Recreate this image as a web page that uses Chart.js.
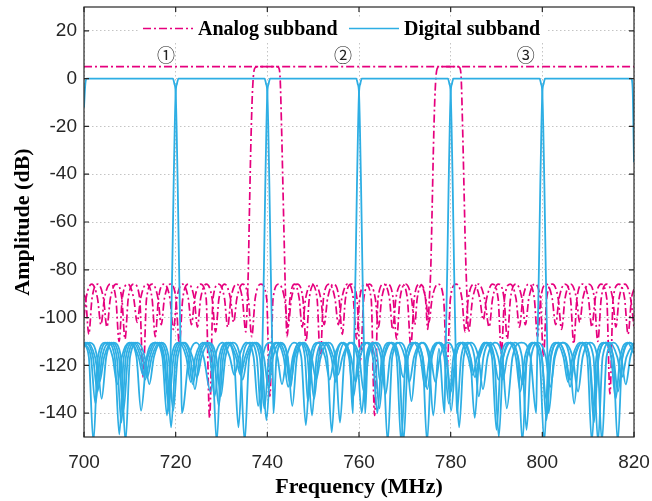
<!DOCTYPE html>
<html>
<head>
<meta charset="utf-8">
<script src="https://cdn.jsdelivr.net/npm/chart.js@4.4.1/dist/chart.umd.min.js"></script>
<style>
  html, body { margin: 0; padding: 0; background: #fff; }
</style>
</head>
<body>
<canvas id="chart" width="652" height="501"></canvas>
<script>
// frequency ticks (MHz) and amplitude ticks (dB)
var xTicks = [700, 720, 740, 760, 780, 800, 820];
var yTicks = [20, 0, -20, -40, -60, -80, -100, -120, -140];
var seriesNames = ["Analog subband", "Digital subband"];

// subband markers
var markerText = ["\u2460", "\u2461", "\u2462"];
var markerFreq = [717.9, 756.5, 796.4];
var markerLevel = 10;

// analog subband responses [MHz, dB]
var analog1 = [[700,5],[742.1,5],[742.5,4.5],[742.8,0],[743.1,-20],[743.4,-45],[743.7,-70],[743.95,-90],[744.3,-108],
  [744.95,-92],[745.95,-86],[746.95,-92],[747.6,-104],[748.35,-92],[749.6,-86],[750.85,-92],[751.55,-117],
  [752.25,-92],[753.5,-86],[754.75,-92],[755.5,-103],[756.25,-92],[757.5,-86],[758.75,-92],[759.45,-109],
  [760.15,-92],[761.4,-86],[762.65,-92],[763.4,-141],[764.15,-92],[765.4,-86],[766.65,-92],[767.35,-105],
  [768.05,-92],[769.3,-86],[770.55,-92],[771.3,-112],[772.05,-92],[773.3,-86],[774.55,-92],[775.25,-102],
  [775.95,-92],[777.2,-86],[778.45,-92],[779.2,-121],[779.95,-92],[781.2,-86],[782.45,-92],[783.15,-106],
  [783.85,-92],[785.1,-86],[786.35,-92],[787.1,-101],[787.85,-92],[789.1,-86],[790.35,-92],[791.05,-115],
  [791.75,-92],[793,-86],[794.25,-92],[795,-104],[795.75,-92],[797,-86],[798.25,-92],[798.95,-108],
  [799.65,-92],[800.9,-86],[802.15,-92],[802.9,-103],[803.65,-92],[804.9,-86],[806.15,-92],[806.85,-111],
  [807.55,-92],[808.8,-86],[810.05,-92],[810.8,-104],[811.55,-92],[812.8,-86],[814.05,-92],[814.75,-132],
  [815.45,-92],[816.7,-86],[817.95,-92],[818.7,-107],[819.45,-92],[820,-88]];
var analog2 = [[700,-100],[700.45,-92],[701.7,-86],[702.95,-92],[703.7,-103],[704.45,-92],[705.7,-86],[706.95,-92],[707.65,-110],
  [708.35,-92],[709.6,-86],[710.85,-92],[711.6,-102],[712.35,-92],[713.6,-86],[714.85,-92],[715.55,-108],
  [716.25,-92],[717.5,-86],[718.75,-92],[719.5,-105],[720.25,-92],[721.5,-86],[722.75,-92],[723.45,-103],
  [724.15,-92],[725.4,-86],[726.65,-92],[727.4,-142],[728.15,-92],[729.4,-86],[730.65,-92],[731.35,-104],
  [732.05,-92],[733.3,-86],[734.55,-92],[735.3,-106],
  [735.6,-95],[735.85,-80],[736.1,-55],[736.4,-28],[736.7,-8],[737,2],[737.4,4.7],[737.9,5],
  [781.6,5],[782,4.5],[782.3,0],[782.6,-20],[782.9,-45],[783.2,-70],[783.5,-88],[783.9,-106],
  [784.8,-92],[786.1,-86],[787.4,-92],[788.4,-104],[789.15,-92],[790.4,-86],[791.65,-92],[792.35,-109],
  [793.05,-92],[794.3,-86],[795.55,-92],[796.3,-103],[797.05,-92],[798.3,-86],[799.55,-92],[800.25,-116],
  [800.95,-92],[802.2,-86],[803.45,-92],[804.2,-105],[804.95,-92],[806.2,-86],[807.45,-92],[808.15,-102],
  [808.85,-92],[810.1,-86],[811.35,-92],[812.1,-110],[812.85,-92],[814.1,-86],[815.35,-92],[816.05,-104],
  [816.75,-92],[818,-86],[819.25,-92],[820,-104]];
var analog3 = [[700,-90.5],[700.35,-92],[701.05,-107],[701.75,-92],[703,-86],[704.25,-92],[705,-104],
  [705.75,-92],[707,-86],[708.25,-92],[708.95,-109],[709.65,-92],[710.9,-86],[712.15,-92],[712.9,-125],
  [713.65,-92],[714.9,-86],[716.15,-92],[716.85,-103],[717.55,-92],[718.8,-86],[720.05,-92],[720.8,-111],
  [721.55,-92],[722.8,-86],[724.05,-92],[724.75,-104],[725.45,-92],[726.7,-86],[727.95,-92],[728.7,-106],
  [729.45,-92],[730.7,-86],[731.95,-92],[732.65,-102],[733.35,-92],[734.6,-86],[735.85,-92],[736.6,-108],
  [737.35,-92],[738.6,-86],[739.85,-92],[740.55,-133],[741.25,-92],[742.5,-86],[743.75,-92],[744.5,-104],
  [745.25,-92],[746.5,-86],[747.75,-92],[748.45,-110],[749.15,-92],[750.4,-86],[751.65,-92],[752.4,-103],
  [753.15,-92],[754.4,-86],[755.65,-92],[756.35,-107],[757.05,-92],[758.3,-86],[759.55,-92],[760.3,-118],
  [761.05,-92],[762.3,-86],[763.55,-92],[764.25,-104],[764.95,-92],[766.2,-86],[767.45,-92],[768.2,-109],
  [768.95,-92],[770.2,-86],[771.45,-92],[772.15,-103],[772.7,-92],[773.6,-86.4],[774.5,-92],[775,-105],
  [775.35,-92],[775.65,-80],[775.95,-55],[776.25,-28],[776.55,-8],[776.85,2],[777.2,4.7],[777.7,5],[820,5]];

// digital subband responses [MHz, dB]
var digital1 = [[700,-12],[700.3,-2],[700.6,0],[719.4,0],[719.7,-2],[720,-6],[720.2,-20],[720.45,-45],[720.75,-80],[721,-105],[721.2,-125],[721.35,-140],
  [722.9,-116.5],[724.5,-110.5],[726.1,-116.5],[727.6,-131],[728.6,-116.5],[730.2,-110.5],[731.8,-116.5],[732.8,-124],
  [733.8,-116.5],[735.4,-110.5],[737,-116.5],[738,-137],[739,-116.5],[740.6,-110.5],[742.2,-116.5],[743.2,-128],
  [744.2,-116.5],[745.8,-110.5],[747.4,-116.5],[748.4,-145],[749.4,-116.5],[751,-110.5],[752.6,-116.5],[753.6,-126],
  [754.6,-116.5],[756.2,-110.5],[757.8,-116.5],[758.8,-133],[759.8,-116.5],[761.4,-110.5],[763,-116.5],[764,-140],
  [765,-116.5],[766.6,-110.5],[768.2,-116.5],[769.2,-152],[770.2,-116.5],[771.8,-110.5],[773.4,-116.5],[774.4,-129],
  [775.4,-116.5],[777,-110.5],[778.6,-116.5],[779.6,-136],[780.6,-116.5],[782.2,-110.5],[783.8,-116.5],[784.8,-124],
  [785.8,-116.5],[787.4,-110.5],[789,-116.5],[790,-147],[791,-116.5],[792.6,-110.5],[794.2,-116.5],[795.2,-131],
  [796.2,-116.5],[797.8,-110.5],[799.4,-116.5],[800.4,-152],[801.4,-116.5],[803,-110.5],[804.6,-116.5],[805.6,-127],
  [806.6,-116.5],[808.2,-110.5],[809.8,-116.5],[810.8,-152],[811.8,-116.5],[813.4,-110.5],[815,-116.5],[816,-134],
  [817,-116.5],[818.6,-110.5],[820,-115]];
var digital2 = [[700,-111],[701.05,-116.5],[702.05,-152],[703.05,-116.5],[704.65,-110.5],[706.25,-116.5],[707.25,-128],
  [708.25,-116.5],[709.85,-110.5],[711.45,-116.5],[712.45,-139],[713.7,-116.5],[715.55,-110.5],[717.4,-116.5],[718.65,-140],
  [718.8,-125],[719,-105],[719.25,-80],[719.55,-45],[719.8,-20],[720,-6],[720.3,-2],[720.6,0],
  [739.4,0],[739.7,-2],[740,-6],[740.2,-20],[740.45,-45],[740.75,-80],[741,-105],[741.2,-125],[741.35,-140],
  [742,-116.5],[743.2,-111],[744.4,-116.5],[745.1,-129],[745.8,-116.5],[747,-110.5],[748.2,-116.5],[748.85,-135],
  [749.85,-116.5],[751.45,-110.5],[753.05,-116.5],[754.05,-148],[755.05,-116.5],[756.65,-110.5],[758.25,-116.5],[759.25,-127],
  [760.25,-116.5],[761.85,-110.5],[763.45,-116.5],[764.45,-138],[765.45,-116.5],[767.05,-110.5],[768.65,-116.5],[769.65,-125],
  [770.65,-116.5],[772.25,-110.5],[773.85,-116.5],[774.85,-152],[775.85,-116.5],[777.45,-110.5],[779.05,-116.5],[780.05,-131],
  [781.05,-116.5],[782.65,-110.5],[784.25,-116.5],[785.25,-142],[786.25,-116.5],[787.85,-110.5],[789.45,-116.5],[790.45,-126],
  [791.45,-116.5],[793.05,-110.5],[794.65,-116.5],[795.65,-152],[796.65,-116.5],[798.25,-110.5],[799.85,-116.5],[800.85,-134],
  [801.85,-116.5],[803.45,-110.5],[805.05,-116.5],[806.05,-129],[807.05,-116.5],[808.65,-110.5],[810.25,-116.5],[811.25,-144],
  [812.25,-116.5],[813.85,-110.5],[815.45,-116.5],[816.45,-152],[817.45,-116.5],[819.05,-110.5],[820,-112]];
var digital3 = [[700,-110.5],[701.5,-116.5],[702.5,-136],[703.5,-116.5],[705.1,-110.5],[706.7,-116.5],[707.7,-149],
  [708.7,-116.5],[710.3,-110.5],[711.9,-116.5],[712.9,-124],[713.9,-116.5],[715.5,-110.5],[717.1,-116.5],[718.1,-141],
  [719.1,-116.5],[720.7,-110.5],[722.3,-116.5],[723.3,-127],[724.3,-116.5],[725.9,-110.5],[727.5,-116.5],[728.5,-133],
  [729.5,-116.5],[731.1,-110.5],[732.7,-116.5],[733.7,-146],[734.65,-116.5],[736.2,-110.5],[737.7,-116.5],[738.65,-140],
  [738.8,-125],[739,-105],[739.25,-80],[739.55,-45],[739.8,-20],[740,-6],[740.3,-2],[740.6,0],
  [759.4,0],[759.7,-2],[760,-6],[760.2,-20],[760.45,-45],[760.75,-80],[761,-105],[761.2,-125],[761.35,-140],
  [761.9,-116.5],[762.95,-111],[764,-116.5],[764.5,-126],[765.5,-116.5],[767.1,-110.5],[768.7,-116.5],[769.7,-152],
  [770.7,-116.5],[772.3,-110.5],[773.9,-116.5],[774.9,-130],[775.9,-116.5],[777.5,-110.5],[779.1,-116.5],[780.1,-139],
  [781.1,-116.5],[782.7,-110.5],[784.3,-116.5],[785.3,-125],[786.3,-116.5],[787.9,-110.5],[789.5,-116.5],[790.5,-150],
  [791.5,-116.5],[793.1,-110.5],[794.7,-116.5],[795.7,-128],[796.7,-116.5],[798.3,-110.5],[799.9,-116.5],[800.9,-143],
  [801.9,-116.5],[803.5,-110.5],[805.1,-116.5],[806.1,-126],[807.1,-116.5],[808.7,-110.5],[810.3,-116.5],[811.3,-137],
  [812.3,-116.5],[813.9,-110.5],[815.5,-116.5],[816.5,-131],[817.5,-116.5],[819.1,-110.5],[820,-111.5]];
var digital4 = [[700,-110.8],[700.35,-110.5],[701.95,-116.5],[702.95,-131],[703.95,-116.5],[705.55,-110.5],[707.15,-116.5],[708.15,-144],
  [709.15,-116.5],[710.75,-110.5],[712.35,-116.5],[713.35,-126],[714.35,-116.5],[715.95,-110.5],[717.55,-116.5],[718.55,-135],
  [719.55,-116.5],[721.15,-110.5],[722.75,-116.5],[723.75,-128],[724.75,-116.5],[726.35,-110.5],[727.95,-116.5],[728.95,-152],
  [729.95,-116.5],[731.55,-110.5],[733.15,-116.5],[734.15,-124],[735.15,-116.5],[736.75,-110.5],[738.35,-116.5],[739.35,-138],
  [740.35,-116.5],[741.95,-110.5],[743.55,-116.5],[744.55,-129],[745.55,-116.5],[747.15,-110.5],[748.75,-116.5],[749.75,-141],
  [750.75,-116.5],[752.35,-110.5],[753.95,-116.5],[754.95,-127],[755.65,-116.5],[756.8,-110.8],[757.95,-116.5],[758.65,-140],
  [758.8,-125],[759,-105],[759.25,-80],[759.55,-45],[759.8,-20],[760,-6],[760.3,-2],[760.6,0],
  [779.4,0],[779.7,-2],[780,-6],[780.2,-20],[780.45,-45],[780.75,-80],[781,-105],[781.2,-125],[781.35,-140],
  [782.3,-116.5],[783.75,-110.5],[785.2,-116.5],[786.15,-133],[787.15,-116.5],[788.75,-110.5],[790.35,-116.5],[791.35,-126],
  [792.35,-116.5],[793.95,-110.5],[795.55,-116.5],[796.55,-147],[797.55,-116.5],[799.15,-110.5],[800.75,-116.5],[801.75,-129],
  [802.75,-116.5],[804.35,-110.5],[805.95,-116.5],[806.95,-136],[807.95,-116.5],[809.55,-110.5],[811.15,-116.5],[812.15,-152],
  [813.15,-116.5],[814.75,-110.5],[816.35,-116.5],[817.35,-125],[818.35,-116.5],[820,-110.5]];
var digital5 = [[700,-111.5],[700.8,-110.5],[702.4,-116.5],[703.4,-127],[704.4,-116.5],[706,-110.5],[707.6,-116.5],[708.6,-139],
  [709.6,-116.5],[711.2,-110.5],[712.8,-116.5],[713.8,-125],[714.8,-116.5],[716.4,-110.5],[718,-116.5],[719,-146],
  [720,-116.5],[721.6,-110.5],[723.2,-116.5],[724.2,-130],[725.2,-116.5],[726.8,-110.5],[728.4,-116.5],[729.4,-137],
  [730.4,-116.5],[732,-110.5],[733.6,-116.5],[734.6,-126],[735.6,-116.5],[737.2,-110.5],[738.8,-116.5],[739.8,-143],
  [740.8,-116.5],[742.4,-110.5],[744,-116.5],[745,-128],[746,-116.5],[747.6,-110.5],[749.2,-116.5],[750.2,-134],
  [751.2,-116.5],[752.8,-110.5],[754.4,-116.5],[755.4,-124],[756.4,-116.5],[758,-110.5],[759.6,-116.5],[760.6,-140],
  [761.6,-116.5],[763.2,-110.5],[764.8,-116.5],[765.8,-132],[766.8,-116.5],[768.4,-110.5],[770,-116.5],[771,-127],
  [772,-116.5],[773.6,-110.5],[775.2,-116.5],[776.2,-141],[777.45,-113],[778.65,-140],
  [778.8,-125],[779,-105],[779.25,-80],[779.55,-45],[779.8,-20],[780,-6],[780.3,-2],[780.6,0],
  [799.4,0],[799.7,-2],[800,-6],[800.2,-20],[800.45,-45],[800.75,-80],[801,-105],[801.2,-125],[801.35,-140],
  [802.6,-116.5],[804.6,-110.5],[806.6,-116.5],[807.8,-131],[808.8,-116.5],[810.4,-110.5],[812,-116.5],[813,-152],
  [814,-116.5],[815.6,-110.5],[817.2,-116.5],[818.2,-128],[819.2,-116.5],[820,-111.5]];
var digital6 = [[700,-112],[701.25,-110.5],[702.85,-116.5],[703.85,-134],[704.85,-116.5],[706.45,-110.5],[708.05,-116.5],[709.05,-152],
  [710.05,-116.5],[711.65,-110.5],[713.25,-116.5],[714.25,-128],[715.25,-116.5],[716.85,-110.5],[718.45,-116.5],[719.45,-139],
  [720.45,-116.5],[722.05,-110.5],[723.65,-116.5],[724.65,-125],[725.65,-116.5],[727.25,-110.5],[728.85,-116.5],[729.85,-133],
  [730.85,-116.5],[732.45,-110.5],[734.05,-116.5],[735.05,-152],[736.05,-116.5],[737.65,-110.5],[739.25,-116.5],[740.25,-129],
  [741.25,-116.5],[742.85,-110.5],[744.45,-116.5],[745.45,-137],[746.45,-116.5],[748.05,-110.5],[749.65,-116.5],[750.65,-126],
  [751.65,-116.5],[753.25,-110.5],[754.85,-116.5],[755.85,-144],[756.85,-116.5],[758.45,-110.5],[760.05,-116.5],[761.05,-131],
  [762.05,-116.5],[763.65,-110.5],[765.25,-116.5],[766.25,-152],[767.25,-116.5],[768.85,-110.5],[770.45,-116.5],[771.45,-135],
  [772.45,-116.5],[774.05,-110.5],[775.65,-116.5],[776.65,-127],[777.65,-116.5],[779.25,-110.5],[780.85,-116.5],[781.85,-146],
  [782.85,-116.5],[784.45,-110.5],[786.05,-116.5],[787.05,-130],[788.05,-116.5],[789.65,-110.5],[791.25,-116.5],[792.25,-138],
  [793.5,-116.5],[795.45,-110.5],[797.4,-116.5],[798.65,-140],
  [798.8,-125],[799,-105],[799.25,-80],[799.55,-45],[799.8,-20],[800,-6],[800.3,-2],[800.6,0],
  [819.4,0],[819.7,-4],[820,-35]];

var analogBands = [analog1, analog2, analog3];
var digitalBands = [digital1, digital2, digital3, digital4, digital5, digital6];

var MAGENTA = "rgb(230,0,126)";
var BLUE = "rgb(45,174,228)";
var AXIS = "#262626";

function toPoints(arr) {
  return arr.map(function (p) { return { x: p[0], y: p[1] }; });
}

var datasets = [];
analogBands.forEach(function (band) {
  datasets.push({
    label: seriesNames[0],
    data: toPoints(band),
    borderColor: MAGENTA,
    borderWidth: 1.7,
    borderDash: [8, 3, 2, 3],
    pointRadius: 0,
    fill: false,
    cubicInterpolationMode: "monotone",
    order: 2
  });
});
digitalBands.forEach(function (band) {
  datasets.push({
    label: seriesNames[1],
    data: toPoints(band),
    borderColor: BLUE,
    borderWidth: 1.8,
    pointRadius: 0,
    fill: false,
    cubicInterpolationMode: "monotone",
    order: 1
  });
});

// legend inside the top of the plot, MATLAB style
var insideLegend = {
  id: "insideLegend",
  afterDatasetsDraw: function (chart) {
    var ctx = chart.ctx;
    var items = [
      { name: seriesNames[0], color: MAGENTA, dash: [8, 3, 2, 3], x: 143 },
      { name: seriesNames[1], color: BLUE, dash: [], x: 349 }
    ];
    ctx.save();
    ctx.fillStyle = "#fff";
    ctx.fillRect(138, 18, 410, 24);
    items.forEach(function (it) {
      ctx.beginPath();
      ctx.setLineDash(it.dash);
      ctx.strokeStyle = it.color;
      ctx.lineWidth = 1.7;
      ctx.moveTo(it.x, 28.5);
      ctx.lineTo(it.x + 50, 28.5);
      ctx.stroke();
      ctx.setLineDash([]);
      ctx.fillStyle = "#000";
      ctx.font = "bold 20px 'Liberation Serif', 'Times New Roman', serif";
      ctx.textBaseline = "alphabetic";
      ctx.textAlign = "left";
      ctx.fillText(it.name, it.x + 55, 35);
    });

    // circled subband numbers
    var xs = chart.scales.x, ys = chart.scales.y;
    ctx.fillStyle = "#222";
    ctx.font = "18px 'Noto Sans CJK JP', 'DejaVu Sans', sans-serif";
    ctx.textAlign = "center";
    ctx.textBaseline = "middle";
    markerText.forEach(function (t, i) {
      ctx.fillText(t, xs.getPixelForValue(markerFreq[i]), ys.getPixelForValue(markerLevel));
    });
    ctx.restore();
  }
};

// box around the plot with inward ticks on all sides
var boxFrame = {
  id: "boxFrame",
  afterDraw: function (chart) {
    var ctx = chart.ctx, a = chart.chartArea;
    var xs = chart.scales.x, ys = chart.scales.y;
    var len = 5;
    ctx.save();
    ctx.strokeStyle = AXIS;
    ctx.lineWidth = 1.2;
    ctx.strokeRect(a.left, a.top, a.right - a.left, a.bottom - a.top);
    ctx.beginPath();
    xTicks.forEach(function (v) {
      var px = xs.getPixelForValue(v);
      ctx.moveTo(px, a.bottom); ctx.lineTo(px, a.bottom - len);
      ctx.moveTo(px, a.top); ctx.lineTo(px, a.top + len);
    });
    yTicks.forEach(function (v) {
      var py = ys.getPixelForValue(v);
      ctx.moveTo(a.left, py); ctx.lineTo(a.left + len, py);
      ctx.moveTo(a.right, py); ctx.lineTo(a.right - len, py);
    });
    ctx.stroke();
    ctx.restore();
  }
};

function noEdgePadding(scale) {
  scale.paddingTop = 0;
  scale.paddingBottom = 0;
  scale.paddingLeft = 0;
  scale.paddingRight = 0;
}

var tickFont = { family: "'Liberation Sans', Arial, sans-serif", size: 19 };
var titleFont = { family: "'Liberation Serif', 'Times New Roman', serif", size: 22, weight: "bold" };

new Chart(document.getElementById("chart").getContext("2d"), {
  type: "line",
  data: { datasets: datasets },
  plugins: [insideLegend, boxFrame],
  options: {
    responsive: false,
    animation: false,
    events: [],
    layout: { padding: { left: 0, right: 18, top: 7, bottom: 0 } },
    plugins: {
      legend: { display: false },
      tooltip: { enabled: false }
    },
    scales: {
      x: {
        type: "linear",
        min: 700,
        max: 820,
        afterBuildTicks: function (scale) {
          scale.ticks = xTicks.map(function (v) { return { value: v }; });
        },
        afterFit: function (scale) { scale.height = 64; noEdgePadding(scale); },
        ticks: {
          autoSkip: false,
          maxRotation: 0,
          padding: 14,
          color: AXIS,
          font: tickFont,
          callback: function (v) { return String(v); }
        },
        grid: { color: "#c4c4c4", lineWidth: 1, drawTicks: false },
        border: { display: false, dash: [1.5, 2.5] },
        title: { display: true, text: "Frequency (MHz)", color: "#000", font: titleFont, padding: { top: 0, bottom: 0 } }
      },
      y: {
        type: "linear",
        min: -150,
        max: 30,
        afterBuildTicks: function (scale) {
          scale.ticks = yTicks.map(function (v) { return { value: v }; });
        },
        afterFit: function (scale) { scale.width = 84; noEdgePadding(scale); },
        ticks: {
          autoSkip: false,
          padding: 7,
          color: AXIS,
          font: tickFont,
          callback: function (v) { return String(v); }
        },
        grid: { color: "#c4c4c4", lineWidth: 1, drawTicks: false },
        border: { display: false, dash: [1.5, 2.5] },
        title: { display: true, text: "Amplitude (dB)", color: "#000", font: titleFont, padding: { top: 10, bottom: 0 } }
      }
    }
  }
});
</script>
</body>
</html>
